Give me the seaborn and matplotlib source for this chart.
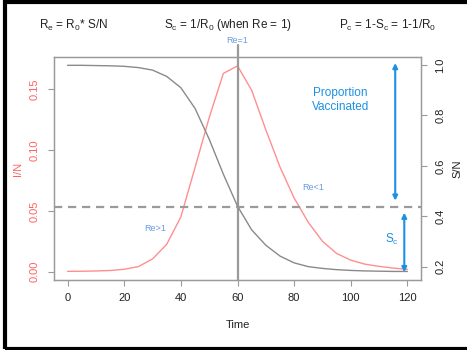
import matplotlib
matplotlib.use("Agg")
import matplotlib.pyplot as plt
import matplotlib.transforms as mtrans
from matplotlib.patches import Rectangle
import seaborn as sns
import pandas as pd

# ---- data ----
time = [0, 5, 10, 15, 20, 25, 30, 35, 40, 45, 50, 55, 60, 65, 70, 75, 80, 85, 90, 95, 100, 105, 110, 115, 120]
infected = [0.0003, 0.0004, 0.0006, 0.0010, 0.0020, 0.0042, 0.0105, 0.0225, 0.0450, 0.0855, 0.1265, 0.1628,
            0.1690, 0.1490, 0.1165, 0.0860, 0.0605, 0.0405, 0.0250, 0.0150, 0.0095, 0.0062, 0.0044, 0.0030, 0.0020]
susceptible = [0.999, 0.999, 0.998, 0.997, 0.995, 0.990, 0.980, 0.955, 0.910, 0.828, 0.706, 0.567,
               0.440, 0.346, 0.285, 0.242, 0.215, 0.200, 0.193, 0.188, 0.185, 0.183, 0.182, 0.181, 0.181]
x_ticks = [0, 20, 40, 60, 80, 100, 120]
i_ticks = [0.00, 0.05, 0.10, 0.15]
i_tick_labels = ["0.00", "0.05", "0.10", "0.15"]
s_ticks = [0.2, 0.4, 0.6, 0.8, 1.0]
s_tick_labels = ["0.2", "0.4", "0.6", "0.8", "1.0"]
s_crit = 0.438
t_peak = 60

df = pd.DataFrame({"Time": time, "I": infected, "S": susceptible})

sns.set_style("white")
plt.rcParams["font.family"] = ["Liberation Sans", "DejaVu Sans"]
plt.rcParams["mathtext.default"] = "regular"

RED_LINE = "#FF8F8F"
RED_TXT = "#FF6262"
GRAY = "#8A8A8A"
AX_GRAY = "#9A9A9A"
BLUE = "#1C90E2"
LBLUE = "#6A9BE0"

fig = plt.figure(figsize=(4.67, 3.5), dpi=100)
ax = fig.add_axes([54 / 467, 70 / 350, (421 - 54) / 467, (280 - 57) / 350])
ax2 = ax.twinx()

sns.lineplot(data=df, x="Time", y="I", ax=ax, color=RED_LINE, lw=1.0)
sns.lineplot(data=df, x="Time", y="S", ax=ax2, color=GRAY, lw=1.0)

ax.set_xlim(-4.8, 124.8)
ax.set_ylim(-0.0068, 0.1763)
ax2.set_ylim(0.147, 1.032)

# dashed critical line and vertical peak line
ax2.axhline(s_crit, color=AX_GRAY, lw=1.6, ls=(0, (3.7, 2.6)))
ax.axvline(t_peak, ymin=0, ymax=1.054, color=AX_GRAY, lw=1.6, clip_on=False)

# ticks
ax.set_xticks(x_ticks)
ax.set_xticklabels([str(v) for v in x_ticks])
ax.set_yticks(i_ticks)
ax.set_yticklabels(i_tick_labels, rotation=90, va="center", ha="right")
ax2.set_yticks(s_ticks)
ax2.set_yticklabels(s_tick_labels, rotation=90, va="center", ha="left")

ax.tick_params(axis="x", length=4.5, width=0.8, color=AX_GRAY, pad=5, labelsize=8, labelcolor="#222222", bottom=True)
ax.tick_params(axis="y", length=4.5, width=0.8, color=AX_GRAY, pad=5.5, labelsize=8, labelcolor=RED_TXT, left=True)
ax2.tick_params(axis="y", length=4.5, width=0.8, color=AX_GRAY, pad=6, labelsize=8, labelcolor="#222222", right=True)

for a in (ax, ax2):
    for sp in a.spines.values():
        sp.set_color(AX_GRAY)
        sp.set_linewidth(0.9)

ax.set_xlabel("Time", fontsize=8, color="#222222", labelpad=12)
ax.set_ylabel("I/N", fontsize=8, color=RED_TXT, labelpad=5)
ax2.set_ylabel("S/N", fontsize=8, color="#222222", labelpad=5)

# annotations
trans = mtrans.blended_transform_factory(ax.transData, ax.transAxes)
ax.text(t_peak, 1.075, "Re=1", transform=trans, ha="center", va="center", fontsize=6.5, color=LBLUE)
ax.text(30.8, 0.0356, "Re>1", ha="center", va="center", fontsize=6.5, color=LBLUE)
ax.text(86.6, 0.0695, "Re<1", ha="center", va="center", fontsize=6.5, color=LBLUE)

ax2.text(96.3, 0.861, "Proportion\nVaccinated", ha="center", va="center", fontsize=8.5,
         color=BLUE, linespacing=1.15)
ax2.text(114.6, 0.306, r"S$_c$", ha="center", va="center", fontsize=8.5, color=BLUE)

ax2.annotate("", xy=(115.7, 0.462), xytext=(115.7, 1.008),
             arrowprops=dict(arrowstyle="<|-|>", color=BLUE, lw=1.5, mutation_scale=7,
                             shrinkA=0, shrinkB=0))
ax2.annotate("", xy=(118.9, 0.178), xytext=(118.9, 0.414),
             arrowprops=dict(arrowstyle="<|-|>", color=BLUE, lw=1.5, mutation_scale=7,
                             shrinkA=0, shrinkB=0))

# header formulas
fig.text(73.5 / 467, 1 - 25 / 350, r"R$_e$ = R$_0$* S/N", ha="center", va="center", fontsize=8.5, color="#222222")
fig.text(227.5 / 467, 1 - 25 / 350, r"S$_c$ = 1/R$_0$ (when Re = 1)", ha="center", va="center", fontsize=8.5, color="#222222")
fig.text(387.5 / 467, 1 - 25 / 350, r"P$_c$ = 1-S$_c$ = 1-1/R$_0$", ha="center", va="center", fontsize=8.5, color="#222222")

# outer black frame
fig.patches.append(Rectangle((5 / 467, 1.5 / 350), 1.2, 1 - 3 / 350, transform=fig.transFigure,
                             fill=False, edgecolor="black", lw=3, clip_on=False))

fig.savefig("out.png", dpi=100)
